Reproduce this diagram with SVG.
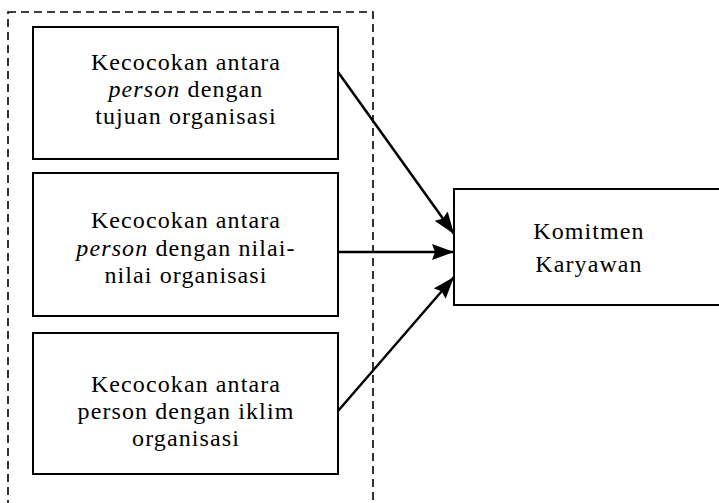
<svg xmlns="http://www.w3.org/2000/svg" width="719" height="503" viewBox="0 0 719 503">
<defs>
<style>
.box{fill:#fff;stroke:#000;stroke-width:2}
.t{font-family:"Liberation Serif","Times New Roman",serif;font-size:24px;letter-spacing:1.1px;fill:#000;text-anchor:middle}
.c{stroke:#000;stroke-width:2.5;fill:none}
</style>
<marker id="a" viewBox="0 0 22 16" refX="22" refY="8" markerWidth="22" markerHeight="16" markerUnits="userSpaceOnUse" orient="auto">
<path d="M0,0 L22,8 L0,16 L3,8 z" fill="#000"/>
</marker>
</defs>
<rect id="group" x="8" y="12" width="365" height="520" fill="none" stroke="#000" stroke-width="1.6" stroke-dasharray="8 5"/>
<g id="n1">
<rect class="box" x="33" y="27" width="305" height="132"/>
<text class="t"><tspan x="186" y="70">Kecocokan antara</tspan><tspan x="186" y="97"><tspan font-style="italic">person</tspan> dengan</tspan><tspan x="186" y="124">tujuan organisasi</tspan></text>
</g>
<g id="n2">
<rect class="box" x="33" y="173" width="305" height="143"/>
<text class="t"><tspan x="186" y="228">Kecocokan antara</tspan><tspan x="186" y="256"><tspan font-style="italic">person</tspan> dengan nilai-</tspan><tspan x="186" y="283">nilai organisasi</tspan></text>
</g>
<g id="n3">
<rect class="box" x="33" y="333" width="305" height="141"/>
<text class="t"><tspan x="186" y="392">Kecocokan antara</tspan><tspan x="186" y="419">person dengan iklim</tspan><tspan x="186" y="446">organisasi</tspan></text>
</g>
<g id="n4">
<rect class="box" x="454" y="189" width="280" height="116"/>
<text class="t"><tspan x="589" y="239">Komitmen</tspan><tspan x="589" y="272">Karyawan</tspan></text>
</g>
<g id="connectors">
<line class="c" x1="338" y1="72" x2="454" y2="234" marker-end="url(#a)"/>
<line class="c" x1="338" y1="252" x2="454" y2="252" marker-end="url(#a)"/>
<line class="c" x1="338" y1="411" x2="454" y2="277" marker-end="url(#a)"/>
</g>
</svg>
